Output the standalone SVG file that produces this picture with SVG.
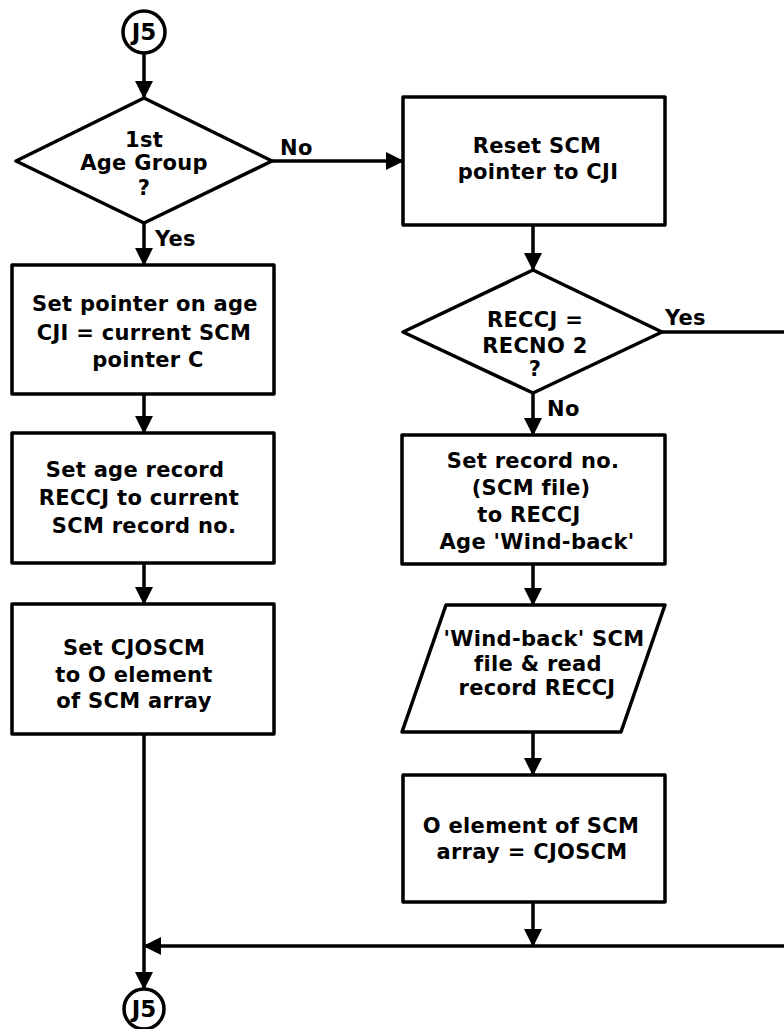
<svg xmlns="http://www.w3.org/2000/svg" width="784" height="1029" viewBox="0 0 784 1029">
<defs>
<marker id="ah" viewBox="0 0 18 18" refX="17" refY="9" markerWidth="18" markerHeight="18" markerUnits="userSpaceOnUse" orient="auto"><path d="M0,0 L18,9 L0,18 Z" fill="#000"/></marker>
<style>
.s{fill:#fff;stroke:#000;stroke-width:3.5;stroke-linejoin:round}
.c{fill:none;stroke:#000;stroke-width:3.5}
.a{marker-end:url(#ah)}
text{font-family:"DejaVu Sans","Liberation Sans",sans-serif;font-weight:bold;font-size:21px;fill:#000;text-anchor:middle;letter-spacing:0.3px}
text.l{text-anchor:start}
text.j{font-size:23px;letter-spacing:0}
</style>
</defs>
<rect width="784" height="1029" fill="#fff"/>
<g id="connectors">
<path class="c a" d="M144,53 V98"/>
<path class="c a" d="M272,161 H403"/>
<path class="c a" d="M144,223 V265"/>
<path class="c a" d="M144,394 V433"/>
<path class="c a" d="M144,563 V604"/>
<path class="c a" d="M144,734 V989"/>
<path class="c a" d="M533,225 V270"/>
<path class="c" d="M662,332 H784"/>
<path class="c a" d="M533,393 V435"/>
<path class="c a" d="M533,564 V605"/>
<path class="c a" d="M533,732 V775"/>
<path class="c a" d="M533,902 V946"/>
<path class="c a" d="M784,946 H144"/>
<text class="l" x="280" y="155">No</text>
<text class="l" x="155" y="246">Yes</text>
<text class="l" x="665" y="325">Yes</text>
<text class="l" x="547" y="416">No</text>
</g>
<g id="j5-top">
<circle class="s" cx="144" cy="32" r="21"/>
<text class="j" x="144" y="40">J5</text>
</g>
<g id="d-first-age">
<polygon class="s" points="144,98 272,161 144,223 16,161"/>
<text x="144" y="147">1st</text>
<text x="144" y="170">Age Group</text>
<text x="144" y="195">?</text>
</g>
<g id="b-set-pointer">
<rect class="s" x="12" y="265" width="262" height="129"/>
<text x="145" y="311">Set pointer on age</text>
<text x="144" y="340">CJI = current SCM</text>
<text x="148" y="367">pointer C</text>
</g>
<g id="b-set-age-record">
<rect class="s" x="12" y="433" width="262" height="130"/>
<text x="135" y="477">Set age record</text>
<text x="139" y="505">RECCJ to current</text>
<text x="144" y="533">SCM record no.</text>
</g>
<g id="b-set-cjoscm">
<rect class="s" x="12" y="604" width="262" height="130"/>
<text x="134" y="655">Set CJOSCM</text>
<text x="134" y="682">to O element</text>
<text x="134" y="708">of SCM array</text>
</g>
<g id="j5-bottom">
<circle class="s" cx="144" cy="1009" r="20"/>
<text class="j" x="144" y="1017">J5</text>
</g>
<g id="b-reset-scm">
<rect class="s" x="403" y="97" width="262" height="128"/>
<text x="537" y="153">Reset SCM</text>
<text x="538" y="179">pointer to CJI</text>
</g>
<g id="d-reccj">
<polygon class="s" points="533,270 662,332 533,393 403,332"/>
<text x="535" y="327">RECCJ =</text>
<text x="535" y="353">RECNO 2</text>
<text x="535" y="376">?</text>
</g>
<g id="b-set-record-no">
<rect class="s" x="402" y="435" width="263" height="129"/>
<text x="533" y="468">Set record no.</text>
<text x="531" y="495">(SCM file)</text>
<text x="529" y="522">to RECCJ</text>
<text x="537" y="549">Age 'Wind-back'</text>
</g>
<g id="p-wind-back">
<polygon class="s" points="446,605 665,605 621,732 402,732"/>
<text x="544" y="646">'Wind-back' SCM</text>
<text x="538" y="671">file &amp; read</text>
<text x="537" y="695">record RECCJ</text>
</g>
<g id="b-zero-element">
<rect class="s" x="403" y="775" width="262" height="127"/>
<text x="531" y="833">O element of SCM</text>
<text x="532" y="859">array = CJOSCM</text>
</g>
</svg>
